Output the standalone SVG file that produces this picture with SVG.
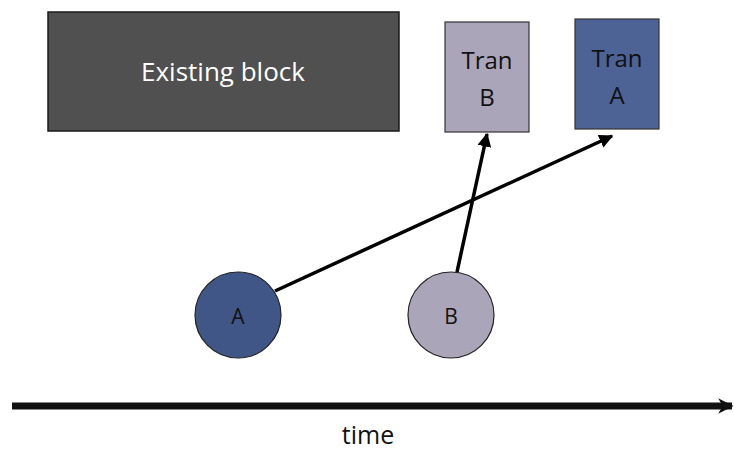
<svg xmlns="http://www.w3.org/2000/svg" width="734" height="450" viewBox="0 0 734 450">
<style>
text{font-family:"Open Sans","Liberation Sans",sans-serif;text-anchor:middle}
.lbl{font-size:24px;fill:#111}
.conn{stroke:#000;stroke-width:3.5;fill:none}
</style>
<defs>
<marker id="ah" viewBox="0 0 10 10" refX="9" refY="5" markerWidth="4" markerHeight="4" orient="auto" markerUnits="strokeWidth">
<path d="M0,0 L10,5 L0,10 Z" fill="#000"/>
</marker>
<marker id="ah2" viewBox="0 0 10 10" refX="9" refY="5" markerWidth="2.2" markerHeight="3" orient="auto" markerUnits="strokeWidth">
<path d="M0,0 L10,5 L0,10 L3,5 Z" fill="#111"/>
</marker>
</defs>
<rect width="734" height="450" fill="#fff"/>
<g id="existing-block">
<rect x="48" y="12" width="351" height="119" fill="#505050" stroke="#1a1a1a" stroke-width="1.5"/>
<text x="223" y="81" font-size="26" fill="#fff">Existing block</text>
</g>
<g id="tran-b">
<rect x="445" y="22" width="84" height="110" fill="#aba5ba" stroke="#333" stroke-width="1.2"/>
<text class="lbl" x="487" y="69">Tran</text>
<text class="lbl" x="487" y="106">B</text>
</g>
<g id="tran-a">
<rect x="575" y="19" width="84" height="110" fill="#4e6395" stroke="#333" stroke-width="1.2"/>
<text class="lbl" x="617" y="67">Tran</text>
<text class="lbl" x="617" y="104">A</text>
</g>
<g id="circle-a">
<circle cx="238" cy="315" r="43" fill="#3f5686" stroke="#222" stroke-width="1.2"/>
<text x="238" y="324" font-size="21" fill="#111">A</text>
</g>
<g id="circle-b">
<circle cx="451" cy="315" r="43" fill="#aba5ba" stroke="#222" stroke-width="1.2"/>
<text x="451" y="324" font-size="21" fill="#111">B</text>
</g>
<g id="connectors">
<line class="conn" x1="275" y1="291" x2="612" y2="136" marker-end="url(#ah)"/>
<line class="conn" x1="457" y1="272" x2="487" y2="134" marker-end="url(#ah)"/>
<line x1="12" y1="406" x2="732" y2="406" stroke="#111" stroke-width="7" marker-end="url(#ah2)"/>
</g>
<text x="368" y="444" font-size="25" fill="#111">time</text>
</svg>
